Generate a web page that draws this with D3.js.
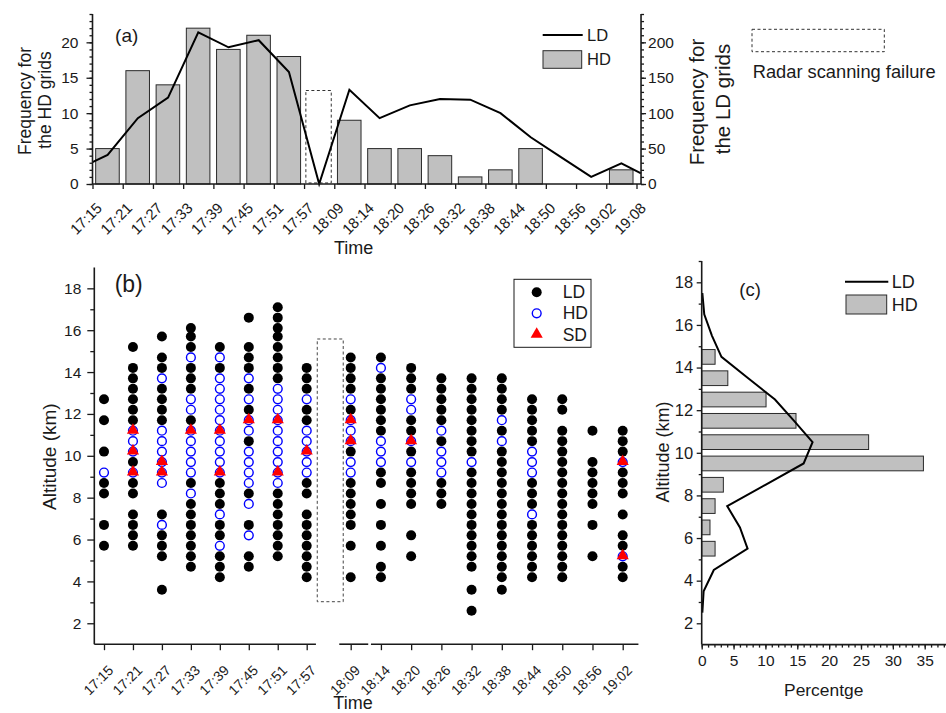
<!DOCTYPE html>
<html>
<head>
<meta charset="utf-8">
<script src="https://cdn.jsdelivr.net/npm/d3@7"></script>
<style>
body { margin: 0; background: #fff; }
svg { font-family: "Liberation Sans", Arial, sans-serif; }
</style>
</head>
<body>
<div id="chart"></div>
<script>
// ---------- data ----------
// (a) tick times, values are for the 6-min intervals between ticks
var timesA = ["17:15","17:21","17:27","17:33","17:39","17:45","17:51","17:57","18:09","18:14",
              "18:20","18:26","18:32","18:38","18:44","18:50","18:56","19:02","19:08"];
var hdFreq = [5,16,14,22,19,21,18,null,9,5,5,4,1,2,5,0,0,2];
var ldPos  = [0,0.5,1.5,2.5,3.5,4.5,5.5,6.5,7.5,8.5,9.5,10.5,11.5,12.5,13.5,14.5,15.5,16.5,17.5,18.15];
var ldFreq = [31,41,93,122,214,193,203,158,0,133,93,111,120,119,100,66,38,10,29,15];
var failIdx = 7, failTop = 13.2;

// (b) altitude (km) of grids per scan
var timesB = ["17:15","17:21","17:27","17:33","17:39","17:45","17:51","17:57","18:09",
              "18:14","18:20","18:26","18:32","18:38","18:44","18:50","18:56","19:02"];
var ldAlt = [
  [12.7,11.7,10.2,8.7,8.2,6.7,5.7],
  [15.2,14.2,13.7,13.2,12.7,12.2,11.7,9.7,8.7,8.2,7.2,6.7,6.2,5.7],
  [15.7,14.7,14.2,13.2,12.7,12.2,11.7,7.2,6.2,5.7,5.2,3.6],
  [16.1,15.7,15.2,14.2,13.7,13.2,11.7,8.7,7.7,7.2,6.7,6.2,5.7,5.2,4.7],
  [15.2,14.2,8.7,8.2,7.7,6.7,6.2,5.2,4.7,4.2],
  [16.6,15.2,14.7,14.2,13.2,12.2,10.7,8.2,6.7,5.2,4.7],
  [17.1,16.6,16.1,15.7,15.2,14.7,14.2,13.7,8.2,7.7,7.2,6.7,6.2,5.7,5.2],
  [14.2,13.7,13.2,12.2,11.7,8.7,8.2,7.2,6.7,6.2,5.7,5.2,4.7,4.2],
  [14.7,14.2,13.7,13.2,12.2,10.2,8.7,8.2,7.7,7.2,6.7,5.7,4.2],
  [14.7,13.7,13.2,12.7,12.2,11.7,11.2,9.2,8.7,7.7,6.7,5.7,4.7,4.2],
  [14.2,13.7,13.2,11.7,11.2,10.2,9.2,8.7,8.2,7.7,6.2,5.2],
  [13.7,13.2,12.7,12.2,11.7,10.7,8.7,8.2,7.7],
  [13.7,13.2,12.7,12.2,11.7,11.2,10.7,10.2,9.2,8.7,8.2,7.7,7.2,6.7,6.2,5.7,5.2,4.7,3.6,2.6],
  [13.7,13.2,12.7,12.2,11.2,10.2,9.7,9.2,8.7,8.2,7.7,7.2,6.7,6.2,5.7,5.2,4.7,4.2,3.6],
  [12.7,12.2,11.7,11.2,10.7,8.7,8.2,7.7,6.7,6.2,5.7,5.2,4.7,4.2],
  [12.7,12.2,11.2,10.7,10.2,9.7,9.2,8.7,8.2,7.7,7.2,6.7,6.2,5.7,5.2,4.7,4.2],
  [11.2,9.7,9.2,8.7,8.2,7.7,6.7,5.2],
  [11.2,10.7,10.2,9.2,8.7,8.2,7.2,6.2,5.7,4.7,4.2]
];
var hdAlt = [
  [9.2],
  [11.2,10.7,10.2,9.2],
  [13.7,11.2,10.7,10.2,9.7,9.2,8.7,6.7],
  [14.7,12.7,12.2,11.2,10.7,10.2,9.7,9.2,8.2],
  [14.7,13.7,13.2,12.7,12.2,11.7,11.2,10.7,10.2,9.7,9.2,7.2,5.7],
  [13.7,12.7,11.7,11.2,10.2,9.7,9.2,8.7,7.7,6.2],
  [13.2,12.7,12.2,11.7,11.2,10.7,10.2,9.7,9.2,8.7],
  [12.7,11.2,10.7,10.2,9.7,9.2],
  [12.7,11.7,11.2,10.7,9.7,9.2],
  [14.2,10.7,10.2,9.7],
  [12.7,12.2,10.7,9.7],
  [11.2,10.2,9.7,9.2],
  [9.7],
  [11.7,10.7],
  [10.2,9.7,9.2,7.2],
  [],
  [],
  [9.7,5.2]
];
var sdAlt = [
  [],[11.2,10.2,9.2],[9.7,9.2],[11.2],[11.2,9.2],[11.7],[11.7,9.2],[10.2],
  [11.7,10.7],[],[10.7],[],[],[],[],[],[],[9.7,5.2]
];
var failB = [7.24, 7.83, 3.03, 15.58]; // index span and altitude span of the failed scan

// (c) vertical profiles (%)
var altC  = [14.5,13.5,12.5,11.5,10.5,9.5,8.5,7.5,6.5,5.5];
var hdPct = [2.1,4.1,10.1,14.8,26.2,34.8,3.4,2.1,1.3,2.1];
var ldAltC = [17.5,16.5,15.5,14.5,13.5,12.5,11.5,10.5,9.5,8.5,7.5,6.5,5.5,4.5,3.5,2.5];
var ldPct  = [0.1,0.4,1.6,3.1,7.3,11.5,14.5,17.4,16.0,10.0,4.0,6.0,7.2,1.9,0.3,0.1];

// ---------- setup ----------
var ink = "#1a1a1a";
var svg = d3.select("#chart").append("svg")
    .attr("width", 946)
    .attr("height", 713);

function styleAxis(g, size) {
  g.select(".domain").remove();
  g.selectAll("line").attr("stroke", ink).attr("stroke-width", 1.3);
  g.selectAll("text").attr("fill", ink).style("font-size", size + "px");
  g.attr("font-family", null);
}
function label(txt, x, y, size, rot, anchor) {
  svg.append("text")
    .attr("transform", "translate(" + x + "," + y + ")" + (rot ? " rotate(" + rot + ")" : ""))
    .attr("text-anchor", anchor || "middle")
    .attr("dy", "0.35em")
    .attr("fill", ink)
    .style("font-size", size + "px")
    .text(txt);
}
function vline(x, y0, y1) {
  svg.append("line").attr("x1", x).attr("x2", x).attr("y1", y0).attr("y2", y1)
    .attr("stroke", ink).attr("stroke-width", 1.6);
}
function hline(x0, x1, y) {
  svg.append("line").attr("x1", x0).attr("x2", x1).attr("y1", y).attr("y2", y)
    .attr("stroke", ink).attr("stroke-width", 1.6);
}

// ================= panel (a) =================
var xA = d3.scaleLinear().domain([0, 18]).range([92.5, 636.5]);
var yL = d3.scaleLinear().domain([0, 24]).range([184, 14]);
var yR = d3.scaleLinear().domain([0, 240]).range([184, 14]);

var barsA = hdFreq.map((v, i) => ({ v: v, i: i })).filter(d => d.v);
svg.append("g").selectAll("rect")
  .data(barsA)
  .enter().append("rect")
  .attr("x", d => xA(d.i + 0.105))
  .attr("width", xA(0.78) - xA(0))
  .attr("y", d => yL(d.v))
  .attr("height", d => yL(0) - yL(d.v))
  .attr("fill", "#c0c0c0")
  .attr("stroke", "#2a2a2a")
  .attr("stroke-width", 1);

// radar failure box
svg.append("rect")
  .attr("x", xA(failIdx + 0.06))
  .attr("width", xA(0.84) - xA(0))
  .attr("y", yL(failTop))
  .attr("height", yL(0.15) - yL(failTop))
  .attr("fill", "none")
  .attr("stroke", "#333")
  .attr("stroke-dasharray", "3,2.5");

var lineA = d3.line()
  .x((d, i) => xA(ldPos[i]))
  .y(d => yR(d));
svg.append("path")
  .datum(ldFreq)
  .attr("d", lineA)
  .attr("fill", "none")
  .attr("stroke", "#000")
  .attr("stroke-width", 2);

// axes (a)
var gAl = svg.append("g").attr("transform", "translate(" + xA(0) + ",0)");
gAl.call(d3.axisLeft(yL).tickValues(d3.range(0, 25)).tickSize(3).tickFormat(""));
styleAxis(gAl, 15.5);
var gAl2 = svg.append("g").attr("transform", "translate(" + xA(0) + ",0)");
gAl2.call(d3.axisLeft(yL).tickValues([0, 5, 10, 15, 20]).tickSize(6).tickPadding(8));
styleAxis(gAl2, 15.5);
vline(xA(0), yL(0), yL(24));

var gAr = svg.append("g").attr("transform", "translate(" + xA(18.15) + ",0)");
gAr.call(d3.axisRight(yR).tickValues(d3.range(0, 241, 10)).tickSize(3).tickFormat(""));
styleAxis(gAr, 15.5);
var gAr2 = svg.append("g").attr("transform", "translate(" + xA(18.15) + ",0)");
gAr2.call(d3.axisRight(yR).tickValues([0, 50, 100, 150, 200]).tickSize(5).tickPadding(2));
styleAxis(gAr2, 15.5);
vline(xA(18.15), yR(0), yR(240));

var gAb = svg.append("g").attr("transform", "translate(0," + yL(0) + ")");
gAb.call(d3.axisBottom(xA).tickValues(d3.range(0, 19)).tickSize(5).tickFormat(i => timesA[i]));
styleAxis(gAb, 15);
gAb.selectAll("text")
  .attr("x", 0).attr("y", 0).attr("dy", 0)
  .attr("text-anchor", "end")
  .attr("transform", "translate(10,25) rotate(-45)");
hline(xA(0), xA(18.15), yL(0));

// labels (a)
label("(a)", 126.7, 35, 19);
label("Time", 353.7, 248, 18);
label("Frequency for", 25, 101, 17.5, -90);
label("the HD grids", 45, 100, 17.5, -90);
label("Frequency for", 697, 102, 20.5, -90);
label("the LD grids", 723, 99, 20.5, -90);

// legend (a)
svg.append("line").attr("x1", 542.7).attr("x2", 582.7).attr("y1", 35).attr("y2", 35)
  .attr("stroke", "#000").attr("stroke-width", 2);
svg.append("rect").attr("x", 543).attr("y", 50.7).attr("width", 38.7).attr("height", 17.6)
  .attr("fill", "#c0c0c0").attr("stroke", "#2a2a2a");
label("LD", 587, 35, 16.5, 0, "start");
label("HD", 587, 59.5, 16.5, 0, "start");

svg.append("rect").attr("x", 752).attr("y", 29.3).attr("width", 132.3).attr("height", 22.4)
  .attr("fill", "none").attr("stroke", "#333").attr("stroke-dasharray", "3,2.5");
label("Radar scanning failure", 752.7, 72, 18.3, 0, "start");

// ================= panel (b) =================
var xB = d3.scaleLinear().domain([0, 7, 8, 17]).range([104, 306.7, 350.7, 622.7]);
var yB = d3.scaleLinear().domain([1, 19]).range([644.2, 267.4]);

svg.append("rect")
  .attr("x", xB(failB[0]))
  .attr("width", xB(failB[1]) - xB(failB[0]))
  .attr("y", yB(failB[3]))
  .attr("height", yB(failB[2]) - yB(failB[3]))
  .attr("fill", "none")
  .attr("stroke", "#444")
  .attr("stroke-dasharray", "3,2.5");

function flatten(arr) {
  var out = [];
  arr.forEach((alts, i) => alts.forEach(a => out.push({ i: i, a: a })));
  return out;
}
var gB = svg.append("g");
gB.selectAll("circle.ld")
  .data(flatten(ldAlt))
  .enter().append("circle")
  .attr("class", "ld")
  .attr("cx", d => xB(d.i))
  .attr("cy", d => yB(d.a))
  .attr("r", 5)
  .attr("fill", "#000");
gB.selectAll("circle.hd")
  .data(flatten(hdAlt))
  .enter().append("circle")
  .attr("class", "hd")
  .attr("cx", d => xB(d.i))
  .attr("cy", d => yB(d.a))
  .attr("r", 4.4)
  .attr("fill", "#fff")
  .attr("stroke", "#0000ff")
  .attr("stroke-width", 1.4);
var tri = d3.symbol().type(d3.symbolTriangle).size(64);
gB.selectAll("path.sd")
  .data(flatten(sdAlt))
  .enter().append("path")
  .attr("class", "sd")
  .attr("d", tri)
  .attr("transform", d => "translate(" + xB(d.i) + "," + (yB(d.a) - 0.5) + ")")
  .attr("fill", "#ff0000");

// axes (b)
var gBl = svg.append("g").attr("transform", "translate(94.3,0)");
gBl.call(d3.axisLeft(yB).tickValues(d3.range(3, 19, 2)).tickSize(4).tickFormat(""));
styleAxis(gBl, 15);
var gBl2 = svg.append("g").attr("transform", "translate(94.3,0)");
gBl2.call(d3.axisLeft(yB).tickValues(d3.range(2, 19, 2)).tickSize(7).tickPadding(6));
styleAxis(gBl2, 15.5);
vline(94.3, yB(1), yB(19));

var gBb = svg.append("g").attr("transform", "translate(0," + yB(1) + ")");
gBb.call(d3.axisBottom(xB).tickValues(d3.range(0, 18)).tickSize(6).tickFormat(i => timesB[i]));
styleAxis(gBb, 14);
gBb.selectAll("text")
  .attr("x", 0).attr("y", 0).attr("dy", 0)
  .attr("text-anchor", "end")
  .attr("transform", "translate(9.7,27) rotate(-45)");
// broken x axis segments
[[-0.335, 7.21], [7.74, 8.58], [8.67, 17.52]].forEach(s => hline(xB(s[0]), xB(s[1]), yB(1)));

label("(b)", 128.7, 284, 23);
label("Altitude (km)", 49.3, 456.7, 19, -90);
label("Time", 353, 702.5, 18);

// legend (b)
svg.append("rect").attr("x", 514).attr("y", 279.3).attr("width", 77).attr("height", 68)
  .attr("fill", "#fff").attr("stroke", ink).attr("stroke-width", 1);
svg.append("circle").attr("cx", 536.7).attr("cy", 292.3).attr("r", 5).attr("fill", "#000");
svg.append("circle").attr("cx", 536.7).attr("cy", 313.3).attr("r", 4.4).attr("fill", "#fff")
  .attr("stroke", "#0000ff").attr("stroke-width", 1.4);
svg.append("path").attr("d", tri).attr("transform", "translate(536.7,334.2)").attr("fill", "#ff0000");
label("LD", 562.7, 292.3, 17.5, 0, "start");
label("HD", 562.7, 313.3, 17.5, 0, "start");
label("SD", 562.7, 334.7, 17.5, 0, "start");

// ================= panel (c) =================
var xC = d3.scaleLinear().domain([0, 38.5]).range([701.7, 947]);
var yC = d3.scaleLinear().domain([1, 19]).range([644.6, 261]);

svg.append("g").selectAll("rect")
  .data(altC)
  .enter().append("rect")
  .attr("x", xC(0))
  .attr("y", d => yC(d + 0.345))
  .attr("height", yC(0) - yC(0.69))
  .attr("width", (d, i) => xC(hdPct[i]) - xC(0))
  .attr("fill", "#c0c0c0")
  .attr("stroke", "#2a2a2a")
  .attr("stroke-width", 1);

var lineC = d3.line()
  .x(d => xC(d))
  .y((d, i) => yC(ldAltC[i]));
svg.append("path")
  .datum(ldPct)
  .attr("d", lineC)
  .attr("fill", "none")
  .attr("stroke", "#000")
  .attr("stroke-width", 2);

var gCl = svg.append("g").attr("transform", "translate(" + xC(0) + ",0)");
gCl.call(d3.axisLeft(yC).tickValues(d3.range(3, 20, 2)).tickSize(3).tickFormat(""));
styleAxis(gCl, 16);
var gCl2 = svg.append("g").attr("transform", "translate(" + xC(0) + ",0)");
gCl2.call(d3.axisLeft(yC).tickValues(d3.range(2, 19, 2)).tickSize(5).tickPadding(3.5));
styleAxis(gCl2, 16.5);
vline(xC(0), yC(1), yC(19));

var gCb = svg.append("g").attr("transform", "translate(0," + yC(1) + ")");
gCb.call(d3.axisBottom(xC).tickValues(d3.range(0, 39)).tickSize(3).tickFormat(""));
styleAxis(gCb, 15);
var gCb2 = svg.append("g").attr("transform", "translate(0," + yC(1) + ")");
gCb2.call(d3.axisBottom(xC).tickValues(d3.range(0, 36, 5)).tickSize(5).tickPadding(5));
styleAxis(gCb2, 15.5);
hline(xC(0), xC(38.5), yC(1));

label("(c)", 750, 290, 18.5);
label("Altitude (km)", 663, 452, 18, -90);
label("Percentge", 823.7, 690, 17.4);

// legend (c)
svg.append("line").attr("x1", 845).attr("x2", 888.3).attr("y1", 281.7).attr("y2", 281.7)
  .attr("stroke", "#000").attr("stroke-width", 2);
svg.append("rect").attr("x", 846).attr("y", 295).attr("width", 40.7).attr("height", 19)
  .attr("fill", "#c0c0c0").attr("stroke", "#2a2a2a");
label("LD", 891.7, 281.7, 18, 0, "start");
label("HD", 891.7, 304.5, 18, 0, "start");
</script>
</body>
</html>
